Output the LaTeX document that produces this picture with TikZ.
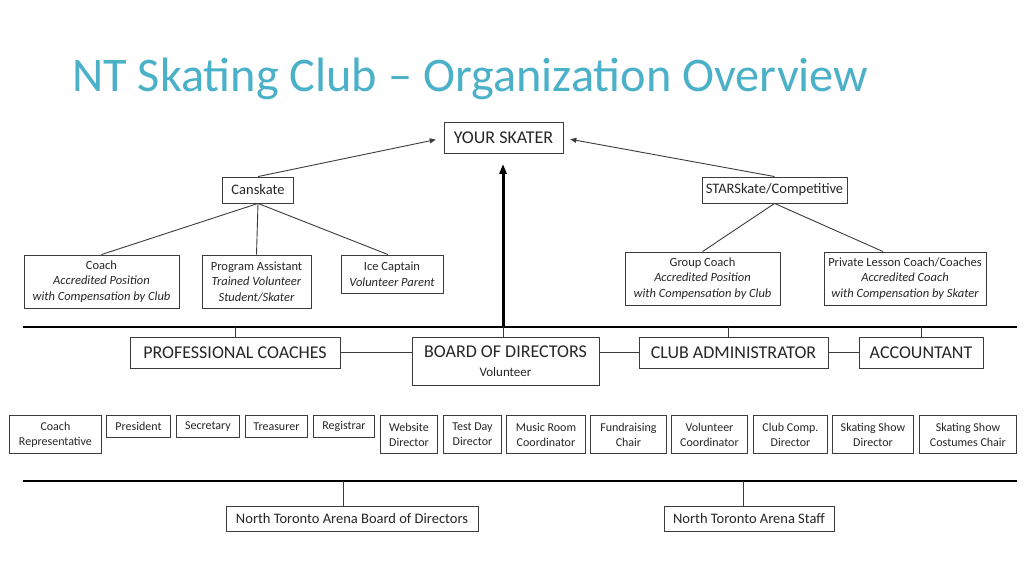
\documentclass[tikz,border=0pt]{standalone}
\usepackage{fontspec}
\setmainfont{Carlito}
\usetikzlibrary{arrows.meta}
\definecolor{titlec}{RGB}{75,177,200}
\definecolor{boxc}{RGB}{60,60,60}
\definecolor{txt}{RGB}{38,38,38}
\tikzset{
  box/.style={draw=boxc, line width=0.9pt, inner sep=0pt, align=center, text=txt},
  big/.style={box, font=\fontsize{18}{20}\selectfont},
  mid/.style={box, font=\fontsize{14.5}{17}\selectfont},
  sub/.style={box, font=\fontsize{12.5}{15.5}\selectfont},
  sm/.style={box, font=\fontsize{12}{15}\selectfont, anchor=north west, minimum height=22pt},
  smtwo/.style={sm, minimum height=38pt},
  conn/.style={draw=boxc, line width=0.9pt},
  arr/.style={conn, -{Triangle[length=6pt,width=5pt]}},
  bar/.style={draw=black, line width=2.6pt},
}
\begin{document}
\begin{tikzpicture}[x=1pt,y=-1pt]
\useasboundingbox (0,0) rectangle (1024,575);
\fill[white] (0,0) rectangle (1024,575);

\node[anchor=base west, inner sep=0pt, text=titlec, font=\fontsize{48.3}{55}\selectfont] (title) at (72,92) {NT Skating Club – Organization Overview};

% top
\node[big, minimum width=119pt, minimum height=31pt] (skater) at (503.5,138) {YOUR SKATER};
\node[mid, minimum width=71pt, minimum height=26pt] (cans) at (258,190) {Canskate};
\node[mid, minimum width=145pt, minimum height=26pt] (star) at (774.5,190) {STARSkate/Competitive};

\node[sub, minimum width=155pt, minimum height=53pt] (coach) at (101.5,281.5) {Coach\\\textit{Accredited Position}\\\textit{with Compensation by Club}};
\node[sub, minimum width=109pt, minimum height=53pt] (pa) at (256.5,281.5) {Program Assistant\\\textit{Trained Volunteer}\\\textit{Student/Skater}};
\node[sub, minimum width=102pt, minimum height=38pt] (ice) at (392,274) {Ice Captain\\\textit{Volunteer Parent}};
\node[sub, minimum width=155pt, minimum height=53pt] (group) at (702.5,278.5) {Group Coach\\\textit{Accredited Position}\\\textit{with Compensation by Club}};
\node[sub, minimum width=162pt, minimum height=53pt] (priv) at (905,278.5) {Private Lesson Coach/Coaches\\\textit{Accredited Coach}\\\textit{with Compensation by Skater}};

\draw[arr, shorten >=8pt] (cans.north) -- (skater.west);
\draw[arr, shorten >=7pt] (star.north) -- (skater.east);
\draw[conn] (cans.south) -- (coach.north);
\draw[conn] (cans.south) -- (pa.north);
\draw[conn] (cans.south) -- ([xshift=-4pt]ice.north);
\draw[conn] (star.south) -- (group.north);
\draw[conn] (star.south) -- ([xshift=-22pt]priv.north);

% middle row
\coordinate (b1l) at (23,327);
\coordinate (b1r) at (1017,327);
\draw[bar] (b1l) -- (b1r);
\node[big, minimum width=210pt, minimum height=31pt] (prof) at (235,352.5) {PROFESSIONAL COACHES};
\node[big, minimum width=187pt, minimum height=48pt] (board) at (505.5,361) {BOARD OF DIRECTORS\\[-1pt]{\fontsize{13}{15}\selectfont Volunteer}};
\node[big, minimum width=189pt, minimum height=31pt] (club) at (733.5,352.5) {CLUB ADMINISTRATOR};
\node[big, minimum width=124pt, minimum height=31pt] (acct) at (921,352.5) {ACCOUNTANT};

\draw[conn] (prof.north) -- (prof.north |- b1l);
\draw[conn] ([xshift=-2.5pt]board.north) -- ([xshift=-2.5pt]board.north |- b1l);
\draw[conn] ([xshift=-5.5pt]club.north) -- ([xshift=-5.5pt]club.north |- b1l);
\draw[conn] (acct.north) -- (acct.north |- b1l);
\draw[line width=3pt, -{Triangle[length=10pt,width=7pt]}, shorten >=10pt] ([xshift=-2.5pt]board.north |- b1l) -- ([xshift=-0.5pt]skater.south);
\draw[conn] (prof.east) -- (prof.east -| board.west);
\draw[conn] (board.east |- club.west) -- (club.west);
\draw[conn] (club.east) -- (acct.west);

% bottom row of positions
\node[smtwo, minimum width=92pt] (crep) at (9,415) {Coach\\Representative};
\node[sm, minimum width=64pt] (pres) at (106,415) {President};
\node[sm, minimum width=63pt] (sec) at (176,415) {Secretary};
\node[sm, minimum width=62pt] (treas) at (245,415) {Treasurer};
\node[sm, minimum width=61pt] (reg) at (313,415) {Registrar};
\node[smtwo, minimum width=57pt] (web) at (380,415) {Website\\Director};
\node[smtwo, minimum width=58pt] (test) at (443,415) {Test Day\\Director};
\node[smtwo, minimum width=79pt] (music) at (506,415) {Music Room\\Coordinator};
\node[smtwo, minimum width=76pt] (fund) at (590,415) {Fundraising\\Chair};
\node[smtwo, minimum width=76pt] (volc) at (671,415) {Volunteer\\Coordinator};
\node[smtwo, minimum width=74pt] (comp) at (753,415) {Club Comp.\\Director};
\node[smtwo, minimum width=81pt] (ssd) at (832,415) {Skating Show\\Director};
\node[smtwo, minimum width=97pt] (cost) at (919,415) {Skating Show\\Costumes Chair};

% arena
\coordinate (b2l) at (23,481);
\coordinate (b2r) at (1017,481);
\draw[bar] (b2l) -- (b2r);
\node[mid, minimum width=252pt, minimum height=25pt] (ntab) at (352,518.5) {North Toronto Arena Board of Directors};
\node[mid, minimum width=170pt, minimum height=25pt] (ntas) at (749,518.5) {North Toronto Arena Staff};
\draw[conn] ([xshift=-9pt]ntab.north) -- ([xshift=-9pt]ntab.north |- b2l);
\draw[conn] ([xshift=-6pt]ntas.north) -- ([xshift=-6pt]ntas.north |- b2l);
\end{tikzpicture}
\end{document}
